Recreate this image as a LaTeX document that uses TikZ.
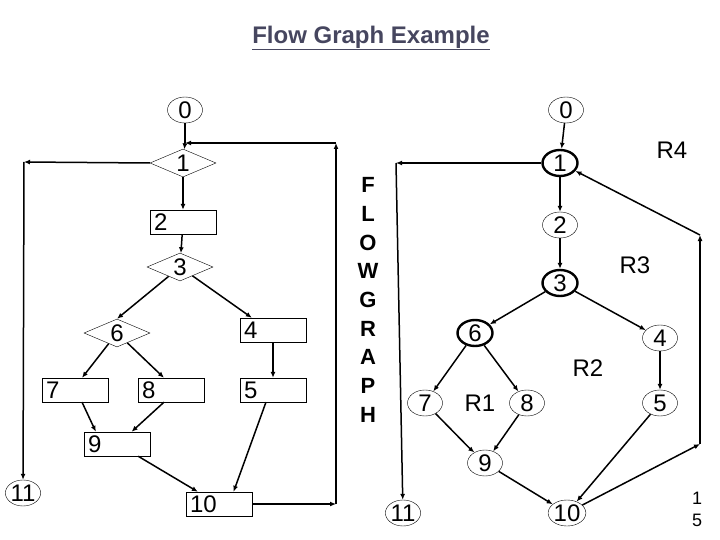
\documentclass[tikz,border=0pt]{standalone}
\usepackage{fontspec}
\setmainfont{Liberation Sans}
\usetikzlibrary{shapes.geometric,arrows.meta}
\definecolor{titlec}{RGB}{70,70,95}
\begin{document}
\begin{tikzpicture}[x=1pt,y=-1pt,
  every node/.style={font=\fontsize{24}{27}\selectfont},
  el/.style={draw,ellipse,thin,minimum width=35pt,minimum height=26pt,inner sep=0pt},
  tel/.style={el,line width=2.4pt},
  dia/.style={draw,diamond,thin,aspect=2.4,minimum width=66pt,minimum height=28pt,inner sep=0pt},
  box/.style={draw,thin,minimum width=66pt,minimum height=24pt,inner sep=0pt,text width=58pt,align=left},
  ar/.style={-{Latex[length=6pt,width=5pt]},line width=1.5pt},
  ln/.style={line width=1.5pt}]
\useasboundingbox (0,0) rectangle (720,540);
\node[font=\fontsize{24}{28}\selectfont\bfseries,text=titlec] (title) at (371,38) {\underline{Flow Graph Example}};
% left graph
\node[el] (a0) at (185,110) {0};
\coordinate (j) at (185,143);
\node[dia] (a1) at (183,163) {1};
\node[box] (a2) at (183,222) {2};
\node[dia] (a3) at (180,267) {3};
\node[dia] (a6) at (117,333) {6};
\node[box] (a4) at (273,330) {4};
\node[box] (a7) at (75,390) {7};
\node[box] (a8) at (171,390) {8};
\node[box] (a5) at (273,390) {5};
\node[box] (a9) at (117,444) {9};
\node[box] (a10) at (219,504) {10};
\node[el] (a11) at (23,493) {11};
\coordinate (lc) at (24,162);
\coordinate (rb) at (336,504);
\coordinate (rt) at (336,143);
\draw[ln] (a0) -- (j);
\draw[ar] (j) -- (a1);
\draw[ar] (a1.west) -- (lc);
\draw[ar] (lc) -- (a11);
\draw[ar] (a1) -- (a2);
\draw[ar] (a2) -- (a3);
\draw[ar] (a3) -- (a6.north);
\draw[ar] (a3) -- (a4.150);
\draw[ar] (a6) -- (a7.60);
\draw[ar] (a6) -- (a8.120);
\draw[ar] (a4) -- (a5);
\draw[ar] (a7.-60) -- (a9.150);
\draw[ar] (a8.-120) -- (a9.40);
\draw[ar] (a9.-30) -- (a10.150);
\draw[ar] (a5.-120) -- (a10.40);
\draw[ar] (a10.east) -- (rb);
\draw[ar] (rb) -- (rt);
\draw[ar] (rt) -- (j);
% FLOWGRAPH
\node[font=\fontsize{22}{28.7}\selectfont\bfseries,align=center] (fg) at (368,300) {F\\L\\O\\W\\G\\R\\A\\P\\H};
% right graph
\node[el] (b0) at (566,110) {0};
\node[tel] (b1) at (560,163) {1};
\node[el] (b2) at (560,225) {2};
\node[tel] (b3) at (560,283) {3};
\node[tel] (b6) at (475,333) {6};
\node[el] (b4) at (660,338) {4};
\node[el] (b7) at (425,403) {7};
\node[el] (b8) at (527,403) {8};
\node[el] (b5) at (660,403) {5};
\node[el] (b9) at (485,463) {9};
\node[el] (b10) at (567,513) {10};
\node[el] (b11) at (403,513) {11};
\coordinate (c1) at (396,163);
\coordinate (c2) at (700,444);
\coordinate (c3) at (700,235);
\draw[ar] (b0) -- (b1);
\draw[ar] (b1) -- (c1);
\draw[ar] (c1) -- (b11);
\draw[ar] (b1) -- (b2);
\draw[ar] (b2) -- (b3);
\draw[ar] (b3) -- (b6);
\draw[ar] (b3) -- (b4);
\draw[ar] (b6) -- (b7);
\draw[ar] (b6) -- (b8);
\draw[ar] (b4) -- (b5);
\draw[ar] (b7) -- (b9);
\draw[ar] (b8) -- (b9);
\draw[ar] (b9) -- (b10);
\draw[ar] (b5) -- (b10);
\draw[ar] (b10) -- (c2);
\draw[ar] (c2) -- (c3);
\draw[ar] (c3) -- (b1);
\node (r4) at (672,150) {R4};
\node (r3) at (635,265) {R3};
\node (r2) at (588,368) {R2};
\node (r1) at (480,403) {R1};
\node[align=center,font=\fontsize{18}{22}\selectfont] (pg) at (697,509) {1\\5};
\end{tikzpicture}
\end{document}
